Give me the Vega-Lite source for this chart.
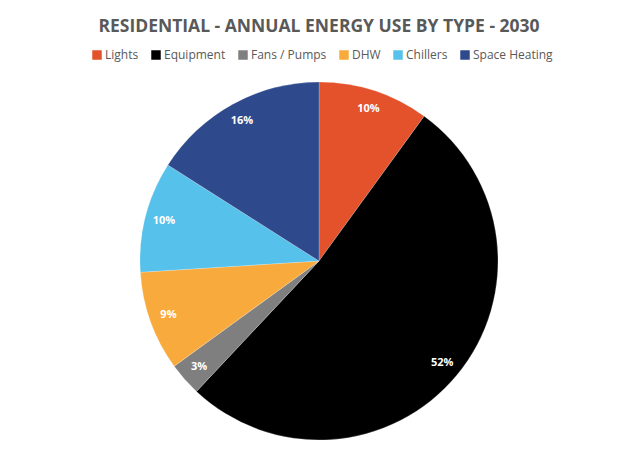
{
  "$schema": "https://vega.github.io/schema/vega-lite/v6.json",
  "width": 638,
  "height": 394,
  "autosize": "none",
  "padding": {"top": 64, "left": 0, "right": 0, "bottom": 0},
  "background": "white",
  "title": {
    "text": "RESIDENTIAL - ANNUAL ENERGY USE BY TYPE - 2030",
    "font": "Open Sans",
    "fontSize": 17.5,
    "fontWeight": "bold",
    "color": "#595959",
    "offset": 14,
    "anchor": "middle"
  },
  "data": {
    "values": [
      {"type": "Lights", "share": 0.10, "order": 1},
      {"type": "Equipment", "share": 0.52, "order": 2},
      {"type": "Fans / Pumps", "share": 0.03, "order": 3},
      {"type": "DHW", "share": 0.09, "order": 4},
      {"type": "Chillers", "share": 0.10, "order": 5},
      {"type": "Space Heating", "share": 0.16, "order": 6}
    ]
  },
  "encoding": {
    "theta": {"field": "share", "type": "quantitative", "stack": true},
    "order": {"field": "order", "type": "quantitative"},
    "color": {
      "field": "type",
      "type": "nominal",
      "sort": ["Lights", "Equipment", "Fans / Pumps", "DHW", "Chillers", "Space Heating"],
      "scale": {
        "domain": ["Lights", "Equipment", "Fans / Pumps", "DHW", "Chillers", "Space Heating"],
        "range": ["#E4522B", "#000000", "#7F7F7F", "#F9AA3C", "#56C1EA", "#2E4A8C"]
      },
      "legend": {
        "title": null,
        "orient": "none",
        "legendX": 91,
        "legendY": -15,
        "direction": "horizontal",
        "symbolType": "square",
        "symbolSize": 90,
        "symbolStrokeWidth": 0,
        "labelFont": "Open Sans",
        "labelFontSize": 12,
        "labelColor": "#595959",
        "columnPadding": 11,
        "symbolOffset": 0,
        "labelOffset": 2
      }
    }
  },
  "layer": [
    {
      "mark": {"type": "arc", "outerRadius": 179, "stroke": "#ffffff", "strokeWidth": 0.5, "strokeOpacity": 0.4}
    },
    {
      "mark": {"type": "text", "radius": 160, "font": "Open Sans", "fontSize": 11, "fontWeight": "bold", "fill": "white"},
      "encoding": {
        "text": {"field": "share", "type": "quantitative", "format": ".0%"},
        "color": {"value": "white"}
      }
    }
  ],
  "config": {"view": {"stroke": null}}
}
